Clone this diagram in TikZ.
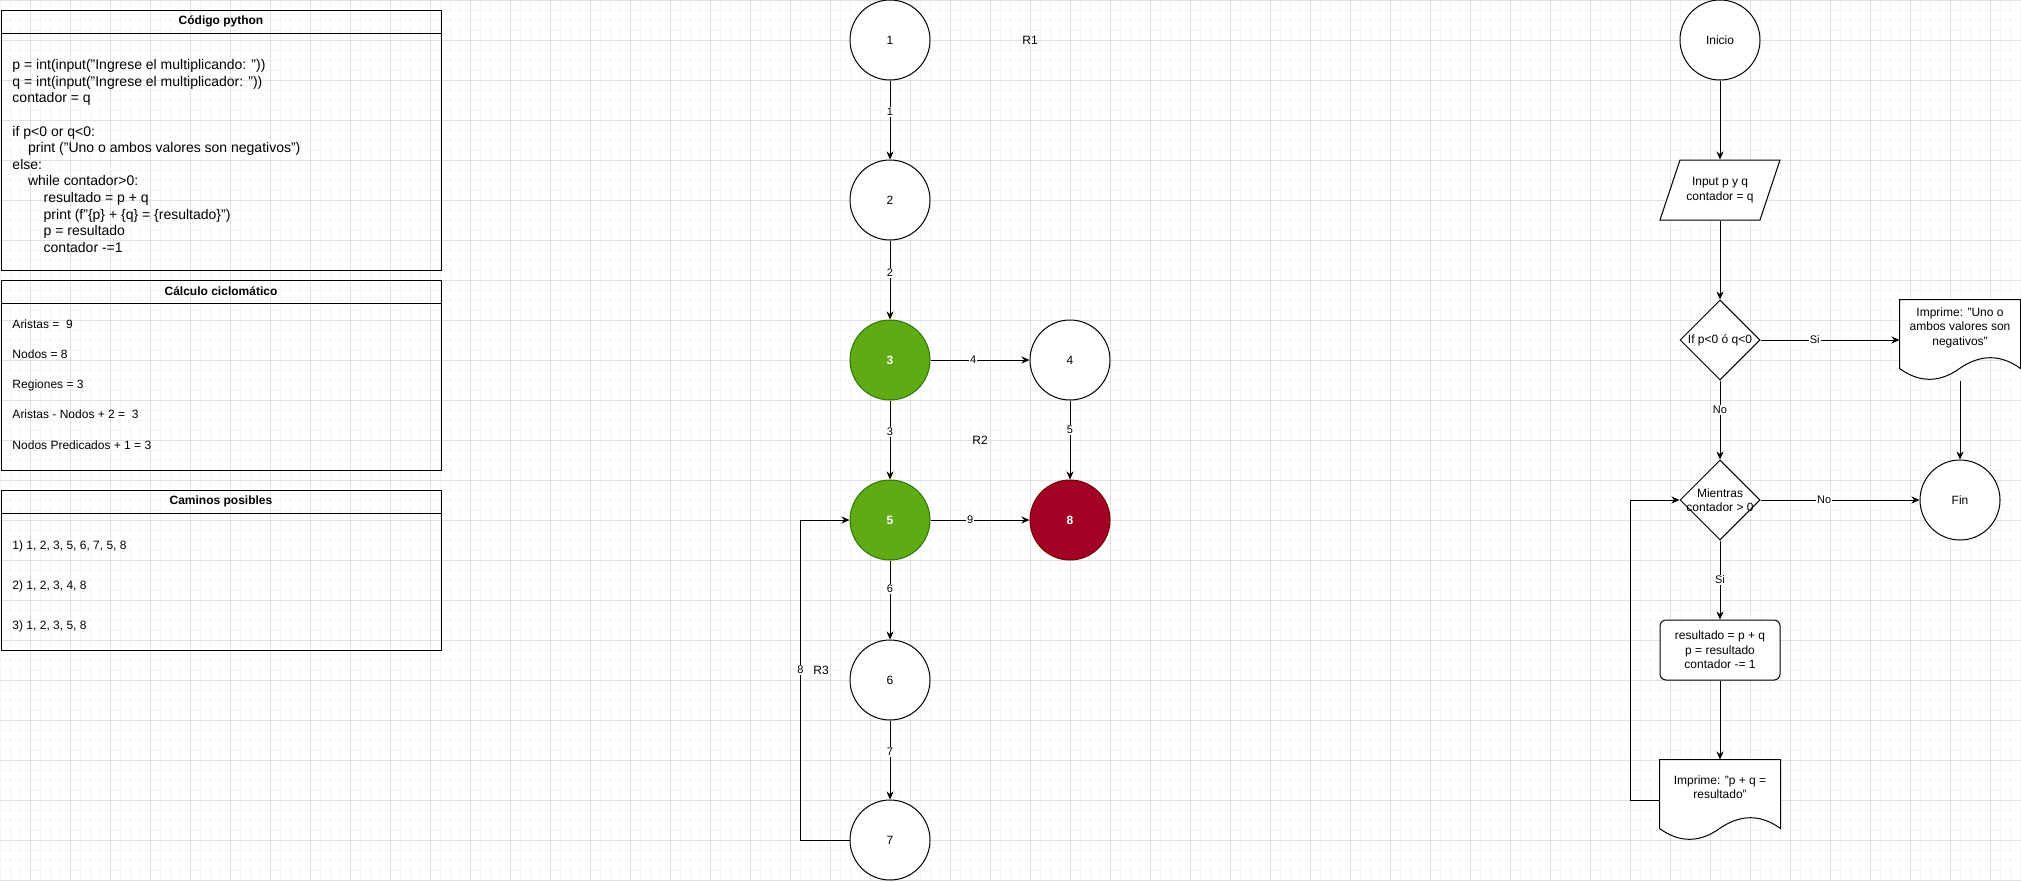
\documentclass[tikz,border=0pt]{standalone}
\usepackage{fontspec}
\setmainfont{Liberation Sans}
\usepackage{xcolor}
\usetikzlibrary{arrows.meta,shapes.geometric}

\definecolor{okfill}{HTML}{60A917}
\definecolor{okline}{HTML}{2D7600}
\definecolor{endfill}{HTML}{A20025}
\definecolor{endline}{HTML}{6F0000}

% document symbol (wavy bottom) drawn round an empty node
\newcommand{\docpath}[1]{%
  \draw[fill=white] (#1.north west) -- (#1.north east) -- ([yshift=12pt]#1.south east)
    .. controls ([xshift=-20pt,yshift=26.4pt]#1.south east) and ([xshift=-40pt,yshift=26.4pt]#1.south east) .. ([xshift=60pt,yshift=12pt]#1.south west)
    .. controls ([xshift=40pt,yshift=-2.4pt]#1.south west) and ([xshift=20pt,yshift=-2.4pt]#1.south west) .. ([yshift=12pt]#1.south west) -- cycle;}

\begin{document}
\begin{tikzpicture}[
  x=1pt, y=-1pt,
  nd/.style={circle, draw, fill=white, minimum size=80pt, inner sep=0pt,
             font=\fontsize{12}{14.4}\selectfont},
  hot/.style={nd, draw=okline, fill=okfill, text=white,
              font=\fontsize{12}{14.4}\selectfont\bfseries},
  sink/.style={nd, draw=endline, fill=endfill, text=white,
               font=\fontsize{12}{14.4}\selectfont\bfseries},
  ev/.style={fill=white, inner sep=1pt, font=\fontsize{11}{13}\selectfont},
  txt/.style={inner sep=0pt, font=\fontsize{12}{14.4}\selectfont},
  row/.style={txt, anchor=west, text height=9pt, text depth=3pt},
  head/.style={txt, font=\fontsize{12}{14.4}\selectfont\bfseries},
  code/.style={inner sep=0pt, align=left, font=\fontsize{14}{16.6}\selectfont},
  dec/.style={diamond, draw, fill=white, shape aspect=1, minimum width=80pt,
              minimum height=80pt, inner sep=0pt},
  proc/.style={draw, fill=white, rounded corners=6pt, minimum width=120pt,
               minimum height=60pt, inner sep=0pt, align=center,
               font=\fontsize{12}{14.4}\selectfont},
  tbl/.style={draw, line width=1pt},
  minor/.style={line width=0.5pt, black!4},
  major/.style={line width=0.8pt, black!12},
  >={Stealth[length=8pt,width=7pt]}, line width=1pt
]
\useasboundingbox (0,0) rectangle (2021,881);
\fill[white] (0,0) rectangle (2021,881);

% Background grid
\foreach \gx in {0,10,...,2020} \draw[minor] (\gx,0) -- (\gx,881);
\foreach \gy in {0,10,...,880} \draw[minor] (0,\gy) -- (2021,\gy);
\foreach \gx in {30,70,...,2010} \draw[major] (\gx,0) -- (\gx,881);
\foreach \gy in {0,40,...,880} \draw[major] (0,\gy) -- (2021,\gy);

% Tables on the left
\draw[tbl] (1,10) rectangle (441,270);
\draw[tbl] (1,33) -- (441,33);
\node[head] (srch) at (221,21.5) {Código python};
\node[code, anchor=north west] (src) at (12,59) {p = int(input("Ingrese el multiplicando: "))\\
q = int(input("Ingrese el multiplicador: "))\\
contador = q\\[16.6pt]
if p<0 or q<0:\\
\hspace*{15.6pt}print ("Uno o ambos valores son negativos")\\
else:\\
\hspace*{15.6pt}while contador>0:\\
\hspace*{31.2pt}resultado = p + q\\
\hspace*{31.2pt}print (f"\{p\} + \{q\} = \{resultado\}")\\
\hspace*{31.2pt}p = resultado\\
\hspace*{31.2pt}contador -=1};

\draw[tbl] (1,280) rectangle (441,470);
\draw[tbl] (1,303) -- (441,303);
\node[head] (calch) at (221,291.5) {Cálculo ciclomático};
\foreach \ty/\row [count=\k] in {325/{Aristas =\ \ 9}, 355/{Nodos = 8},
    385/{Regiones = 3}, 415/{Aristas - Nodos + 2 =\ \ 3},
    446/{Nodos Predicados + 1 = 3}}
  \node[row] (calc\k) at (12,\ty) {\row};

\draw[tbl] (1,490) rectangle (441,650);
\draw[tbl] (1,513) -- (441,513);
\node[head] (pathh) at (221,501.5) {Caminos posibles};
\foreach \ty/\row [count=\k] in {546/{1) 1, 2, 3, 5, 6, 7, 5, 8},
    586/{2) 1, 2, 3, 4, 8}, 626/{3) 1, 2, 3, 5, 8}}
  \node[row] (path\k) at (12,\ty) {\row};

% Flow graph
\node[nd]   (n1) at (890,40)   {1};
\node[nd]   (n2) at (890,200)  {2};
\node[hot]  (n3) at (890,360)  {3};
\node[nd]   (n4) at (1070,360) {4};
\node[hot]  (n5) at (890,520)  {5};
\node[sink] (n8) at (1070,520) {8};
\node[nd]   (n6) at (890,680)  {6};
\node[nd]   (n7) at (890,840)  {7};

\draw[->] (n1) -- node[ev, pos=0.4]  {1} (n2);
\draw[->] (n2) -- node[ev, pos=0.41] {2} (n3);
\draw[->] (n3) -- node[ev, pos=0.4]  {3} (n5);
\draw[->] (n3) -- node[ev, pos=0.43] {4} (n4);
\draw[->] (n4) -- node[ev, pos=0.37] {5} (n8);
\draw[->] (n5) -- node[ev, pos=0.4]  {9} (n8);
\draw[->] (n5) -- node[ev, pos=0.36] {6} (n6);
\draw[->] (n6) -- node[ev, pos=0.4]  {7} (n7);
\draw[->] (n7.west) -- ++(-49,0) |- node[ev, pos=0.266] {8} (n5.west);

% Regions
\node[txt] (r1) at (1030,40)  {R1};
\node[txt] (r2) at (980,440)  {R2};
\node[txt] (r3) at (821,670)  {R3};

% Flowchart
\node[nd] (ini) at (1720,40) {Inicio};
\node[minimum width=100pt, minimum height=60pt, inner sep=0pt] (inp) at (1720,190) {};
\draw[fill=white] (1680,160) -- (1780,160) -- (1760,220) -- (1660,220) -- cycle;
\node[txt, align=center] (inpt) at (inp) {Input p y q\\contador = q};

\node[dec] (d1) at (1720,340) {};
\node[txt] (d1t) at (d1) {If p<0 ó q<0};

\node[minimum width=120pt, minimum height=80pt, inner sep=0pt] (doc1) at (1960,340) {};
\docpath{doc1}
\node[txt, align=center] (doc1t) at ([yshift=-28pt]doc1.north) {Imprime: "Uno o\\ambos valores son\\negativos"};

\node[nd] (fin) at (1960,500) {Fin};

\node[dec] (d2) at (1720,500) {};
\node[txt, align=center] (d2t) at (d2) {Mientras\\contador > 0};

\node[proc] (calc) at (1720,650) {resultado = p + q\\p = resultado\\contador -= 1};

\node[minimum width=120pt, minimum height=80pt, inner sep=0pt] (doc2) at (1720,800) {};
\docpath{doc2}
\node[txt, align=center] (doc2t) at ([yshift=-28pt]doc2.north) {Imprime: "p + q =\\resultado"};

\draw[->] (ini) -- (inp);
\draw[->] (inp) -- (d1);
\draw[->] (d1) -- node[ev, pos=0.39] {Si} (doc1);
\draw[->] (d1) -- node[ev, pos=0.375] {No} (d2);
\draw[->] (doc1) -- (fin);
\draw[->] (d2) -- node[ev, pos=0.4] {No} (fin);
\draw[->] (d2) -- node[ev] {Si} (calc);
\draw[->] (calc) -- (doc2);
\draw[->] (doc2.west) -- ++(-29,0) |- (d2.west);
\end{tikzpicture}
\end{document}
